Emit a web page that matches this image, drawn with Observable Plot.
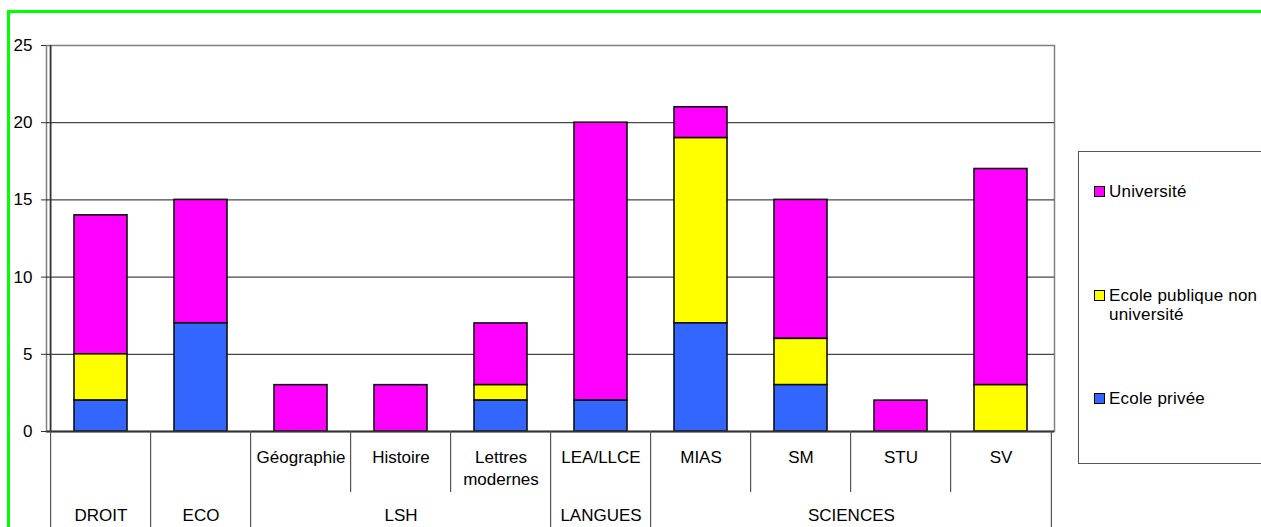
<!DOCTYPE html>
<html>
<head>
<meta charset="utf-8">
<script src="https://cdn.jsdelivr.net/npm/d3@7"></script>
<script src="https://cdn.jsdelivr.net/npm/@observablehq/plot@0.6"></script>
<style>
  html, body { margin: 0; padding: 0; background: #fff; overflow: hidden; width: 1261px; height: 527px; }
  #wrap { position: relative; width: 1261px; height: 527px; font-family: "Liberation Sans", Arial, sans-serif; }
  #wrap svg { position: absolute; left: 0; top: 0; }
  #green { position: absolute; left: 7px; top: 10px; width: 1300px; height: 600px; border: 3px solid #00FF00; box-sizing: border-box; pointer-events: none; }
  #legend { position: absolute; left: 1078px; top: 151px; width: 200px; height: 313px; border: 1px solid #555; box-sizing: border-box; padding-top: 30px; background: #fff; }
  .item { position: relative; height: 103.5px; font-size: 17px; line-height: 19px; color: #000; }
  .sw { position: absolute; left: 15px; top: 4px; width: 9px; height: 9px; border: 1px solid #000; }
  .lab { position: absolute; left: 30px; top: 0; width: 152px; letter-spacing: 0.2px; }
</style>
</head>
<body>
<div id="wrap"></div>
<script>
// ---- data ----
const categories = ["DROIT", "ECO", "Géographie", "Histoire", "Lettres modernes", "LEA/LLCE", "MIAS", "SM", "STU", "SV"];
const groups = ["DROIT", "ECO", "LSH", "LSH", "LSH", "LANGUES", "SCIENCES", "SCIENCES", "SCIENCES", "SCIENCES"];
const series = ["Université", "Ecole publique non université", "Ecole privée"];
const seriesColors = ["#FF00FF", "#FFFF00", "#3366FF"];
const universite = [9, 8, 3, 3, 4, 18, 2, 9, 2, 14];
const publique   = [3, 0, 0, 0, 1, 0, 12, 3, 0, 3];
const privee     = [2, 7, 0, 0, 2, 2, 7, 3, 0, 0];
const yTicks = [0, 5, 10, 15, 20, 25];
const gridValues = [5, 10, 15, 20];

// ---- build table ----
const valuesBySeries = [universite, publique, privee];
const rows = [];
categories.forEach((c, i) => {
  series.forEach((s, j) => {
    const v = valuesBySeries[j][i];
    if (v > 0) rows.push({cat: c, series: s, value: v});
  });
});
const stackOrder = series.slice().reverse(); // bottom to top: privée, publique, université

// ---- layout ----
const W = 1261, H = 527, mL = 46, mR = 207, mT = 45, mB = 96;
const step = (W - mL - mR) / categories.length;
const FONT = "Liberation Sans, Arial, sans-serif";

// dividers under the axis
const dividers = [];
categories.forEach((c, i) => {
  const long = i === 0 || groups[i] !== groups[i - 1];
  dividers.push({cat: c, long});
});
// first-row labels: only for categories that are not their own group
const subLabels = categories.filter((c, i) => groups[i] !== c);
// group spans
const groupSpans = [];
categories.forEach((c, i) => {
  const g = groups[i];
  const last = groupSpans[groupSpans.length - 1];
  if (last && last.name === g) last.cats.push(c);
  else groupSpans.push({name: g, cats: [c]});
});

const groupMarks = groupSpans.map(g => {
  const half = (g.cats.length - 1) / 2;
  const k = Math.floor(half);
  return Plot.text([g.name], {
    x: () => g.cats[k], text: d => d, frameAnchor: "bottom", lineAnchor: "top",
    dy: 77, dx: (half - k) * step, fontSize: 17, fill: "#000"
  });
});

const chart = Plot.plot({
  width: W, height: H,
  marginLeft: mL, marginRight: mR, marginTop: mT, marginBottom: mB,
  style: {fontFamily: FONT, fontSize: "17px", background: "transparent", overflow: "visible"},
  x: {domain: categories, paddingInner: 0.47, paddingOuter: 0.235, axis: null},
  y: {domain: [0, 25], axis: null},
  color: {domain: series, range: seriesColors},
  marks: [
    Plot.frame({stroke: "#808080", strokeWidth: 1.5}),
    Plot.ruleY(gridValues, {stroke: "#1a1a1a", strokeWidth: 1}),
    Plot.barY(rows, {x: "cat", y: "value", fill: "series", order: stackOrder, stroke: "#111", strokeWidth: 1.6}),
    Plot.ruleY([0], {stroke: "#333", strokeWidth: 1.8}),
    Plot.axisY({ticks: yTicks, tickSize: 5, tickPadding: 9, fontSize: 17, stroke: "#333", anchor: "left", label: null}),
    Plot.ruleX([categories[0]], {dx: -step / 2, y1: 0, y2: 25, stroke: "#333", strokeWidth: 1.8}),
    Plot.ruleX(dividers, {x: "cat", dx: -step / 2, y1: 0, y2: d => d.long ? -6.3 : -3.95, stroke: "#555", strokeWidth: 1.2}),
    Plot.ruleX([categories[categories.length - 1]], {dx: step / 2, y1: 0, y2: -6.3, stroke: "#555", strokeWidth: 1.2}),
    Plot.text(subLabels, {x: d => d, text: d => d, frameAnchor: "bottom", lineAnchor: "top", dy: 16, fontSize: 17, lineWidth: 5.8, lineHeight: 1.3, fill: "#000"}),
    ...groupMarks
  ]
});

const wrap = document.getElementById("wrap");
wrap.appendChild(chart);

// legend
const legend = document.createElement("div");
legend.id = "legend";
series.forEach((s, j) => {
  const item = document.createElement("div");
  item.className = "item";
  const sw = document.createElement("div");
  sw.className = "sw";
  sw.style.background = seriesColors[j];
  const lab = document.createElement("div");
  lab.className = "lab";
  lab.textContent = s;
  item.appendChild(sw);
  item.appendChild(lab);
  legend.appendChild(item);
});
wrap.appendChild(legend);

const green = document.createElement("div");
green.id = "green";
wrap.appendChild(green);
</script>
</body>
</html>
